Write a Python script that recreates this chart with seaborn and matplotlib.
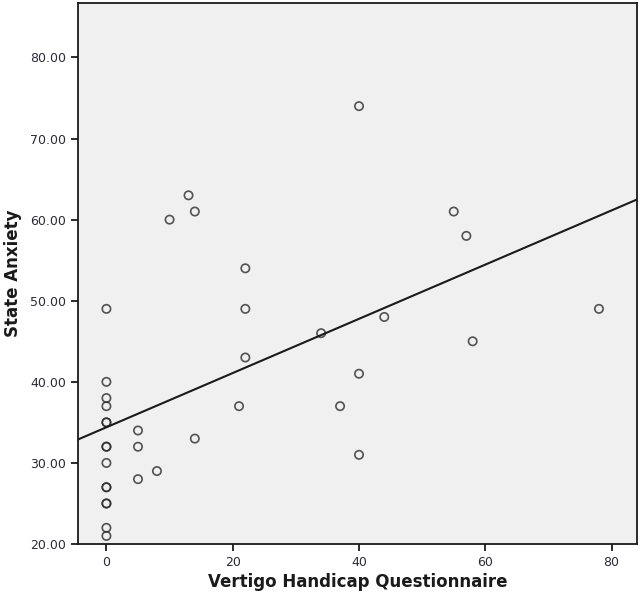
import matplotlib
matplotlib.use("Agg")
import matplotlib.pyplot as plt
import seaborn as sns
import pandas as pd

# Значения
vhq = [0, 0, 0, 0, 0, 0, 0, 0, 0, 0, 0, 0, 0, 0, 0,
       5, 5, 5, 8, 14, 13, 10, 14, 22, 22, 22, 21,
       34, 40, 55, 57, 44, 78, 58, 40, 37, 40]
state_anxiety = [49, 40, 38, 37, 35, 35, 32, 32, 30, 27, 27, 25, 25, 22, 21,
                 34, 32, 28, 29, 33, 63, 60, 61, 54, 49, 43, 37,
                 46, 74, 61, 58, 48, 49, 45, 41, 37, 31]
x_ticks = [0, 20, 40, 60, 80]
y_ticks = [20, 30, 40, 50, 60, 70, 80]

df = pd.DataFrame({"Vertigo Handicap Questionnaire": vhq, "State Anxiety": state_anxiety})

sns.set_style("ticks")
plt.rcParams["font.family"] = ["DejaVu Sans"]

fig = plt.figure(figsize=(6.41, 6.03), dpi=100)
ax = fig.add_axes([0.1217, 0.0978, 0.8728, 0.897])
ax.set_facecolor("#f0f0f0")

# Пределы задаём до regplot, чтобы линия тянулась на всю ширину
ax.set_xlim(-4.5, 84.1)
ax.set_ylim(20, 86.7)

sns.regplot(data=df, x="Vertigo Handicap Questionnaire", y="State Anxiety",
            ci=None, truncate=False, ax=ax,
            scatter_kws=dict(s=36, facecolors="none", edgecolors="#2a2a2a", linewidths=1.2),
            line_kws=dict(color="#1a1a1a", linewidth=1.5))

ax.set_xlim(-4.5, 84.1)
ax.set_ylim(20, 86.7)
ax.set_xticks(x_ticks)
ax.set_xticklabels([str(t) for t in x_ticks])
ax.set_yticks(y_ticks)
ax.set_yticklabels([f"{t:.2f}" for t in y_ticks])

for side in ["left", "right", "top", "bottom"]:
    ax.spines[side].set_visible(True)
    ax.spines[side].set_color("#1a1a1a")
    ax.spines[side].set_linewidth(1.3)

ax.tick_params(axis="both", direction="out", length=5, width=1.3, colors="#1a1a1a",
               labelsize=9, labelcolor="#2a2a3a")
ax.set_xlabel("Vertigo Handicap Questionnaire", fontsize=12, fontweight="bold",
              color="#1a1a1a", labelpad=3)
ax.set_ylabel("State Anxiety", fontsize=12, fontweight="bold", color="#1a1a1a", labelpad=6)

fig.savefig("out.png", dpi=100)
